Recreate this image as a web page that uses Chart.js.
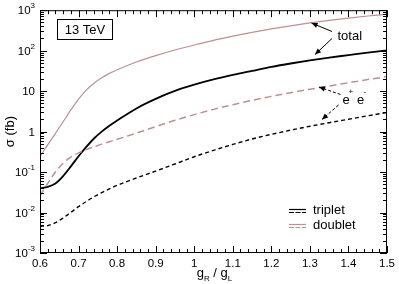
<!DOCTYPE html>
<html><head><meta charset="utf-8">
<script src="https://cdn.jsdelivr.net/npm/chart.js@4"></script>
<style>html,body{margin:0;padding:0;background:#fff;overflow:hidden}</style>
</head><body>
<canvas id="c" width="399" height="284"></canvas>
<script>
const gRatio = [0.60,0.62,0.64,0.66,0.68,0.70,0.72,0.74,0.76,0.78,0.80,0.85,0.90,0.95,1.00,1.05,1.10,1.15,1.20,1.25,1.30,1.35,1.40,1.45,1.50];
const doubletTotal = [0.245,0.469,0.904,1.75,3.44,6.38,10.6,15.7,21.3,27.5,33.8,52.4,75.5,104,138,180,228,283,344,412,485,561,638,718,798];
const tripletTotal = [0.040,0.0431,0.0524,0.0798,0.138,0.2456,0.419,0.675,1.0,1.40,1.876,3.74,6.45,10.1,14.4,19.4,25.1,31.6,39.6,48.2,57.6,67.5,77.6,89.4,101.6];
const doubletEE = [0.026,0.0524,0.1,0.166,0.235,0.299,0.358,0.421,0.49,0.564,0.645,0.919,1.324,1.90,2.63,3.54,4.63,5.93,7.42,9.14,11.1,13.4,16.1,19.3,22.9];
const tripletEE = [0.00456,0.00476,0.00561,0.00734,0.0101,0.0140,0.01875,0.0245,0.0311,0.0385,0.0469,0.0714,0.1057,0.1585,0.239,0.344,0.482,0.656,0.855,1.088,1.355,1.66,2.02,2.46,2.96];
const xTickLabels = ['0.6','0.7','0.8','0.9','1','1.1','1.2','1.3','1.4','1.5'];
const yExponents = [-3,-2,-1,0,1,2,3];

const PINK = '#c08f8f';
const FONT = '"Liberation Sans", Arial, sans-serif';
const pts = arr => gRatio.map((g,i)=>({x:g, y:arr[i]}));

function arrow(ctx,x1,y1,x2,y2,dashed){
  ctx.save();
  ctx.strokeStyle='#000'; ctx.fillStyle='#000'; ctx.lineWidth=1;
  if(dashed) ctx.setLineDash([3,2]);
  ctx.beginPath(); ctx.moveTo(x1,y1); ctx.lineTo(x2,y2); ctx.stroke();
  ctx.setLineDash([]);
  const a=Math.atan2(y2-y1,x2-x1), L=6, W=2.6;
  ctx.beginPath();
  ctx.moveTo(x2,y2);
  ctx.lineTo(x2-L*Math.cos(a)+W*Math.sin(a), y2-L*Math.sin(a)-W*Math.cos(a));
  ctx.lineTo(x2-L*Math.cos(a)-W*Math.sin(a), y2-L*Math.sin(a)+W*Math.cos(a));
  ctx.closePath(); ctx.fill();
  ctx.restore();
}

const decor = {
  id:'decor',
  afterDraw(chart){
    const {ctx, chartArea:a, scales:{x,y}} = chart;
    ctx.save();
    ctx.strokeStyle='#000'; ctx.fillStyle='#000'; ctx.lineWidth=1;
    ctx.strokeRect(a.left+0.5, a.top+0.5, a.right-a.left-1, a.bottom-a.top-1);
    ctx.beginPath();
    y.ticks.forEach(t=>{
      const p = Math.round(y.getPixelForValue(t.value))+0.5;
      const m = Math.abs(Math.log10(t.value)-Math.round(Math.log10(t.value)))<1e-6;
      const L = m?7:4;
      ctx.moveTo(a.left, p); ctx.lineTo(a.left+L, p);
      ctx.moveTo(a.right, p); ctx.lineTo(a.right-L, p);
    });
    x.ticks.forEach(t=>{
      const p = Math.round(x.getPixelForValue(t.value))+0.5;
      const k = Math.round(t.value*50);
      const L = (k%5===0)?7:4;
      ctx.moveTo(p, a.bottom); ctx.lineTo(p, a.bottom-L);
      ctx.moveTo(p, a.top); ctx.lineTo(p, a.top+L);
    });
    ctx.stroke();
    ctx.textBaseline='middle';
    yExponents.forEach(e=>{
      const py = y.getPixelForValue(Math.pow(10,e))+1;
      const xr = a.left-5;
      ctx.font = '11.5px '+FONT;
      if(e===0 || e===1){
        ctx.textAlign='right'; ctx.fillText(e===0?'1':'10', xr, py);
      } else {
        ctx.font = '8px '+FONT;
        const sup = String(e);
        const ws = ctx.measureText(sup).width;
        ctx.textAlign='left'; ctx.fillText(sup, xr-ws, py-5);
        ctx.font = '11.5px '+FONT;
        ctx.textAlign='right'; ctx.fillText('10', xr-ws, py);
      }
    });
    ctx.save();
    ctx.translate(10, (a.top+a.bottom)/2);
    ctx.rotate(-Math.PI/2);
    ctx.font='13px '+FONT; ctx.textAlign='center'; ctx.textBaseline='middle';
    ctx.fillText('σ (fb)', 0, 0);
    ctx.restore();
    const parts = [['g',13,0],['R',8,4],[' / g',13,0],['L',8,4]];
    let tw=0; parts.forEach(p=>{ctx.font=p[1]+'px '+FONT; tw+=ctx.measureText(p[0]).width;});
    let cx = (a.left+a.right)/2 - tw/2 + 1;
    ctx.textAlign='left'; ctx.textBaseline='alphabetic';
    parts.forEach(p=>{ctx.font=p[1]+'px '+FONT; ctx.fillText(p[0], cx, 277+p[2]); cx+=ctx.measureText(p[0]).width;});
    ctx.strokeRect(57.5, 19.5, 55, 20);
    ctx.font='13px '+FONT; ctx.textAlign='center'; ctx.textBaseline='middle';
    ctx.fillText('13 TeV', 85, 30);
    ctx.textAlign='left'; ctx.textBaseline='alphabetic';
    ctx.lineWidth=1.2;
    [[ '#000', 'triplet', 209.5, 214 ], [ PINK, 'doublet', 224.5, 229 ]].forEach(r=>{
      ctx.strokeStyle=r[0];
      ctx.setLineDash([]);
      ctx.beginPath(); ctx.moveTo(289,r[2]); ctx.lineTo(306,r[2]); ctx.stroke();
      ctx.setLineDash([5,1.5]);
      ctx.beginPath(); ctx.moveTo(289,r[2]+3); ctx.lineTo(306,r[2]+3); ctx.stroke();
      ctx.setLineDash([]);
      ctx.fillStyle='#000'; ctx.font='13px '+FONT;
      ctx.fillText(r[1], 313, r[3]);
    });
    ctx.fillStyle='#000';
    ctx.font='13px '+FONT;
    ctx.fillText('total', 337.5, 40);
    arrow(ctx, 332, 31.5, 311.5, 23, false);
    arrow(ctx, 332, 38.5, 315, 54.5, false);
    ctx.fillText('e', 342.5, 103.5);
    ctx.fillText('e', 357, 103.5);
    ctx.font='8px '+FONT;
    ctx.fillText('+', 348.5, 94);
    ctx.fillText('-', 363.5, 93.5);
    arrow(ctx, 340.5, 94.5, 319, 87, true);
    arrow(ctx, 338.5, 105, 322, 119.5, true);
    ctx.restore();
  }
};

new Chart(document.getElementById('c'), {
  type:'line',
  data:{ datasets:[
    {label:'doublet total', data:pts(doubletTotal), borderColor:PINK, borderWidth:1.2, pointRadius:0, cubicInterpolationMode:'monotone', fill:false},
    {label:'doublet e+e-', data:pts(doubletEE), borderColor:PINK, borderWidth:1.5, borderDash:[7,4], pointRadius:0, cubicInterpolationMode:'monotone', fill:false},
    {label:'triplet total', data:pts(tripletTotal), borderColor:'#000', borderWidth:1.8, pointRadius:0, cubicInterpolationMode:'monotone', fill:false},
    {label:'triplet e+e-', data:pts(tripletEE), borderColor:'#000', borderWidth:1.4, borderDash:[4,3], pointRadius:0, cubicInterpolationMode:'monotone', fill:false}
  ]},
  options:{
    responsive:false, animation:false, devicePixelRatio:1,
    layout:{padding:{left:0,right:10,top:7,bottom:0}},
    plugins:{legend:{display:false}, tooltip:{enabled:false}},
    scales:{
      x:{type:'linear', min:0.6, max:1.5,
        afterBuildTicks:s=>{ s.ticks = Array.from({length:46},(_,i)=>({value:+(0.6+i*0.02).toFixed(2)})); },
        afterFit:s=>{ s.height=31; },
        grid:{display:false, drawTicks:false}, border:{display:false},
        ticks:{autoSkip:false, maxRotation:0, padding:4, color:'#000', font:{family:'"Liberation Sans", Arial, sans-serif', size:11.5},
          callback:(v)=>{ const k=Math.round(v*50); return k%5===0 ? xTickLabels[(k-30)/5] : ''; }}
      },
      y:{type:'logarithmic', min:0.001, max:1000,
        afterBuildTicks:s=>{ const t=[]; for(let e=-3;e<=3;e++){ for(let m=1;m<=9;m++){ const v=m*Math.pow(10,e); if(v<=1000.0001) t.push({value:v}); } } s.ticks=t; },
        afterFit:s=>{ s.width=40; },
        grid:{display:false, drawTicks:false}, border:{display:false},
        ticks:{autoSkip:false, callback:()=>''}
      }
    }
  },
  plugins:[decor]
});
</script>
</body></html>
